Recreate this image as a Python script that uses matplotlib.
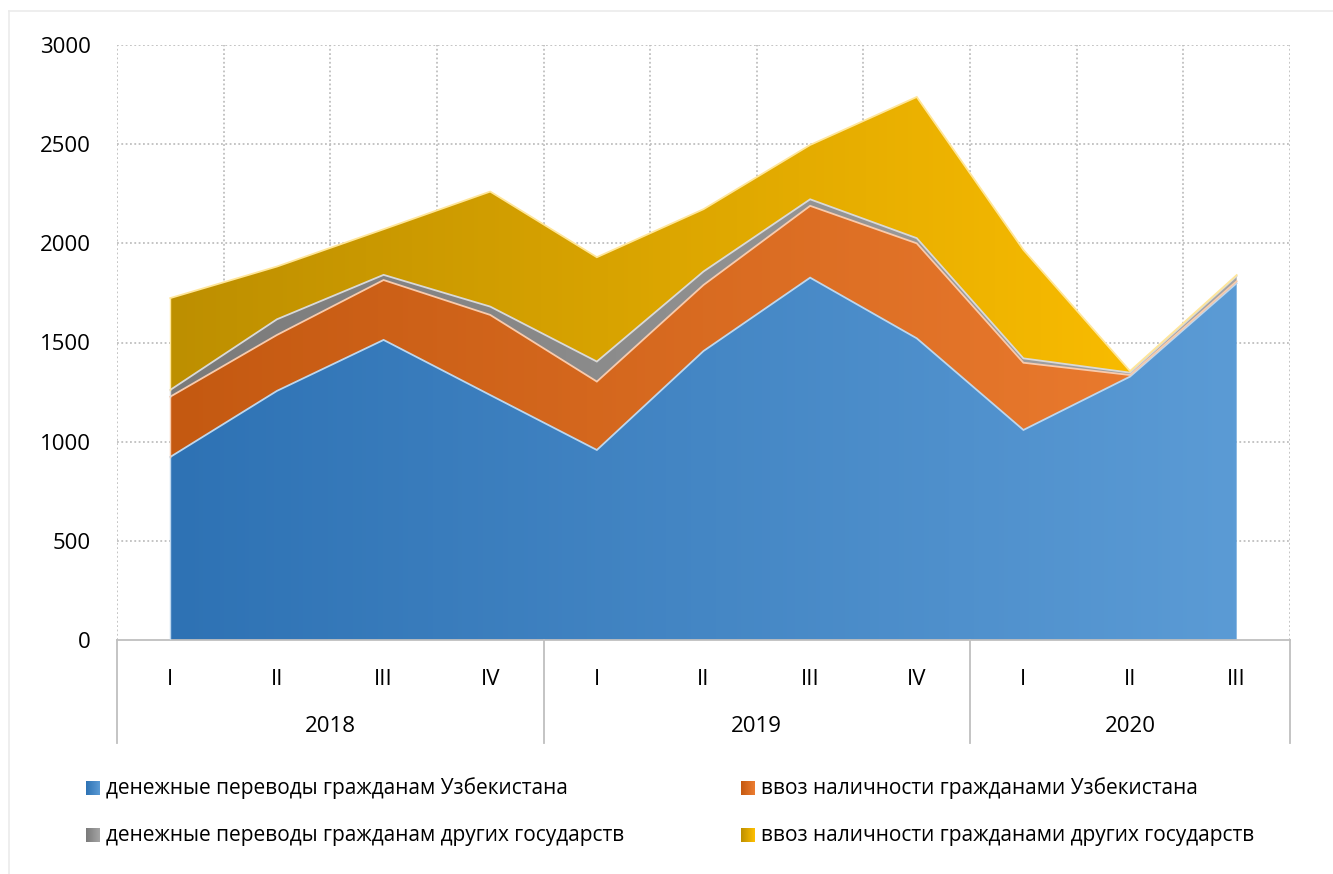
import numpy as np
import matplotlib
matplotlib.use('Agg')
import matplotlib.pyplot as plt
from matplotlib.colors import LinearSegmentedColormap
from matplotlib.lines import Line2D

plt.rcParams['font.family'] = ['Open Sans', 'DejaVu Sans']

quarters = ['I', 'II', 'III', 'IV', 'I', 'II', 'III', 'IV', 'I', 'II', 'III']
years = ['2018', '2019', '2020']
year_sizes = [4, 4, 3]

series_names = ['денежные переводы гражданам Узбекистана',
                'ввоз наличности гражданами Узбекистана',
                'денежные переводы гражданам других государств',
                'ввоз наличности гражданами других государств']

transfers_uz = [923, 1256, 1513, 1235, 958, 1457, 1827, 1521, 1059, 1328, 1799]
cash_uz = [304, 282, 302, 404, 345, 333, 362, 479, 339, 8, 10]
transfers_other = [34, 79, 26, 42, 101, 68, 33, 26, 22, 12, 26]
cash_other = [463, 266, 230, 580, 526, 314, 274, 712, 547, 8, 5]

grad_colors = [('#2E72B4', '#5B9BD5'),
               ('#C45911', '#ED7D31'),
               ('#7A7A7A', '#A5A5A5'),
               ('#BD8F00', '#FFC000')]
edge_colors = ['#BDD7EE', '#F8CBAD', '#D9D9D9', '#FFE699']

W, H = 1333, 874
fig = plt.figure(figsize=(W / 100, H / 100), dpi=100)
ax = fig.add_axes([117 / W, 1 - 640 / H, (1290 - 117) / W, 595 / H])

x = np.arange(len(quarters))
data = np.array([transfers_uz, cash_uz, transfers_other, cash_other], dtype=float)
tops = np.cumsum(data, axis=0)
bottoms = np.vstack([np.zeros(len(x)), tops[:-1]])

grad = np.linspace(0, 1, 256).reshape(1, -1)
for i in range(4):
    cmap = LinearSegmentedColormap.from_list('g%d' % i, grad_colors[i])
    poly = ax.fill_between(x, bottoms[i], tops[i], facecolor='none', edgecolor='none', zorder=2)
    im = ax.imshow(grad, extent=[x[0], x[-1], 0, 3000], aspect='auto', cmap=cmap,
                   origin='lower', zorder=2)
    im.set_clip_path(poly.get_paths()[0], transform=ax.transData)
    ax.plot(x, tops[i], color=edge_colors[i], lw=1.3, zorder=3, solid_joinstyle='miter')
    ax.plot([x[0], x[0]], [bottoms[i][0], tops[i][0]], color=edge_colors[i], lw=1, zorder=3)

ax.set_xlim(-0.5, 10.5)
ax.set_ylim(0, 3000)
ax.set_yticks(np.arange(0, 3001, 500))
ax.set_xticks(x)
ax.set_xticklabels(quarters)
ax.tick_params(axis='both', length=0, labelsize=16, colors='#000000')
ax.tick_params(axis='y', pad=19)
ax.tick_params(axis='x', pad=21)

# dotted grid (vertical lines between categories)
for yv in np.arange(500, 3001, 500):
    ax.axhline(yv, color='#BFBFBF', lw=1.3, ls=(0, (1, 1.4)), zorder=1)
for xv in np.arange(-0.5, 10.6, 1):
    ax.axvline(xv, color='#BFBFBF', lw=1.3, ls=(0, (1, 1.4)), zorder=1)
for s in ['top', 'right', 'left']:
    ax.spines[s].set_visible(False)
ax.spines['bottom'].set_color('#BFBFBF')
ax.spines['bottom'].set_linewidth(1.3)

# multi-level category axis
trans = ax.get_xaxis_transform()
bounds = [-0.5]
for n in year_sizes:
    bounds.append(bounds[-1] + n)
for b in bounds:
    ax.add_line(Line2D([b, b], [0, -103 / 595], transform=trans, color='#BFBFBF',
                       lw=1.3, clip_on=False))
for yr, b0, b1 in zip(years, bounds[:-1], bounds[1:]):
    ax.text((b0 + b1) / 2, -87 / 595, yr, transform=trans, ha='center', va='center',
            fontsize=16)

# legend
leg_pos = [(86, 788), (741, 788), (86, 835), (741, 835)]
for i, (lx, ly) in enumerate(leg_pos):
    lax = fig.add_axes([lx / W, 1 - (ly + 7) / H, 14 / W, 14 / H])
    lax.imshow(grad, aspect='auto', cmap=LinearSegmentedColormap.from_list('l%d' % i, grad_colors[i]))
    lax.axis('off')
    fig.text((lx + 20) / W, 1 - ly / H, series_names[i], ha='left', va='center', fontsize=15)

# chart frame
fig.add_artist(Line2D([9 / W, 9 / W], [0, 1 - 11 / H], color='#EBEBEB', lw=1.2))
fig.add_artist(Line2D([9 / W, 1], [1 - 11 / H, 1 - 11 / H], color='#EBEBEB', lw=1.2))

fig.savefig('out.png', dpi=100)
